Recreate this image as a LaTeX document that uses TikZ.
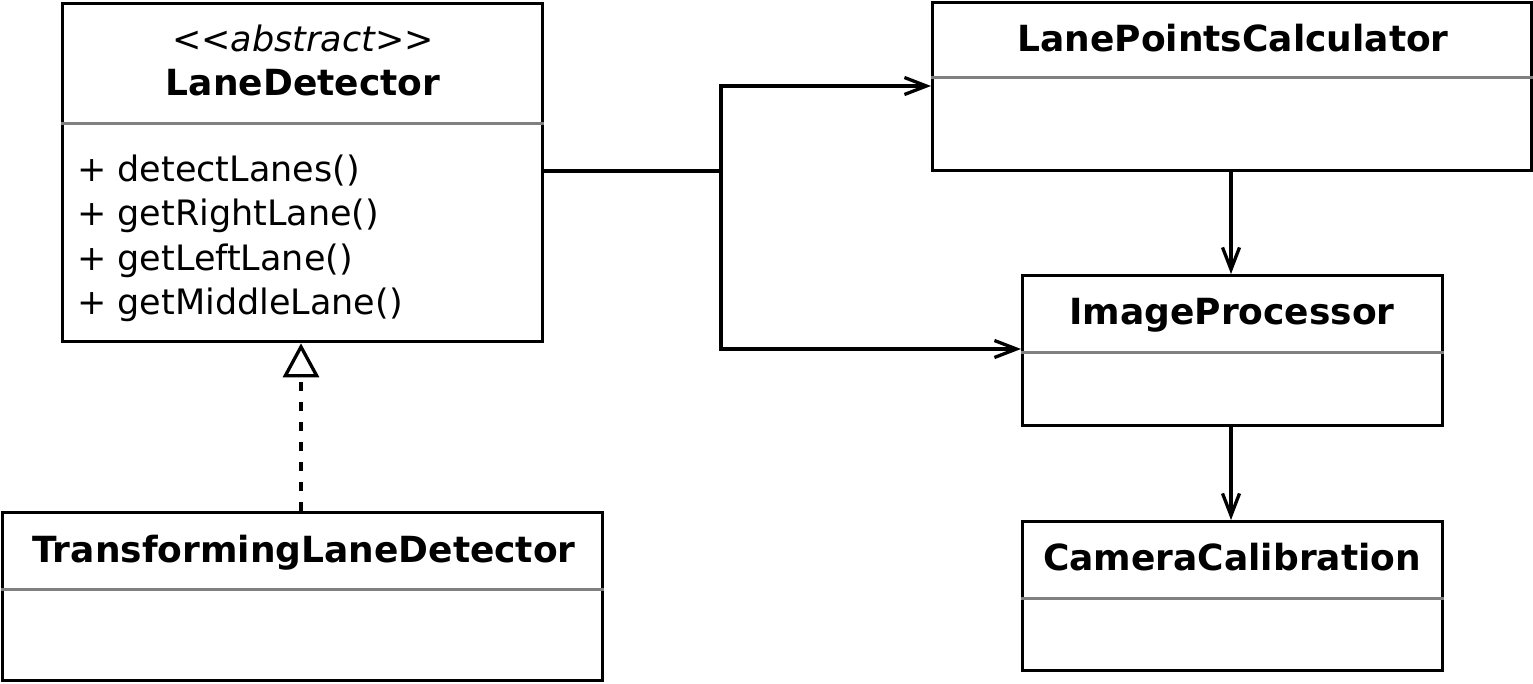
\documentclass[tikz,border=0pt]{standalone}
\usepackage{fontspec}
\setmainfont{DejaVu Sans}
\usetikzlibrary{arrows.meta}
\begin{document}
\begin{tikzpicture}[x=1pt,y=-1pt,
  box/.style={draw=black,line width=3.3pt,rectangle,inner sep=0pt,anchor=north west},
  divider/.style={draw=black!50,line width=3pt},
  title/.style={font=\fontsize{36}{36}\selectfont\bfseries,inner sep=0pt,anchor=base},
  stereo/.style={font=\fontsize{35}{35}\selectfont\itshape,inner sep=0pt,anchor=base},
  meth/.style={font=\fontsize{35}{35}\selectfont,inner sep=0pt,anchor=base west},
  conn/.style={line width=3.3pt},
  assoc/.style={conn,-{Straight Barb[length=22pt,width=17pt,line width=3.3pt]}},
  realiz/.style={conn,dash pattern=on 9pt off 11pt,-{Triangle[open,length=34pt,width=36pt,line width=3.3pt,fill=white]}}]
\useasboundingbox (0,0) rectangle (1533,684);

% boxes
\node[box,minimum width=480pt,minimum height=338pt] (LD) at (61,2) {};
\node[box,minimum width=600pt,minimum height=168pt] (TLD) at (1,511) {};
\node[box,minimum width=599pt,minimum height=168pt] (LPC) at (931,1) {};
\node[box,minimum width=420pt,minimum height=150pt] (IP) at (1021,274) {};
\node[box,minimum width=420pt,minimum height=149pt] (CC) at (1021,520) {};

% dividers
\draw[divider] (LD.west |- 0,124) -- (LD.east |- 0,124);
\draw[divider] (TLD.west |- 0,589) -- (TLD.east |- 0,589);
\draw[divider] (LPC.west |- 0,78) -- (LPC.east |- 0,78);
\draw[divider] (IP.west |- 0,352) -- (IP.east |- 0,352);
\draw[divider] (CC.west |- 0,598) -- (CC.east |- 0,598);

% texts
\node[stereo] (ldst) at (303,52) {<\kern0pt<abstract>\kern0pt>};
\node[title] (ldt) at (303,96) {LaneDetector};
\node[meth] (m1) at (77,182) {+ detectLanes()};
\node[meth] (m2) at (77,226) {+ getRightLane()};
\node[meth] (m3) at (77,271) {+ getLeftLane()};
\node[meth] (m4) at (77,315) {+ getMiddleLane()};
\node[title] (tldt) at (304,562) {TransformingLaneDetector};
\node[title] (lpct) at (1233,52) {LanePointsCalculator};
\node[title] (ipt) at (1232,325) {ImageProcessor};
\node[title] (cct) at (1232,570) {CameraCalibration};

% connectors
\coordinate (j) at (721,171);
\coordinate (ja) at (721,86);
\coordinate (jb) at (721,349);
\draw[conn] (LD.east |- j) -- (j);
\draw[assoc] (j) -- (ja) -- (LPC.west |- ja);
\draw[assoc] (j) -- (jb) -- (IP.west |- jb);
\draw[assoc] (LPC.south -| 1231,0) -- (IP.north -| 1231,0);
\draw[assoc] (IP.south -| 1231,0) -- (CC.north -| 1231,0);
\draw[realiz] (TLD.north -| 301,0) -- (LD.south -| 301,0);
\end{tikzpicture}
\end{document}
